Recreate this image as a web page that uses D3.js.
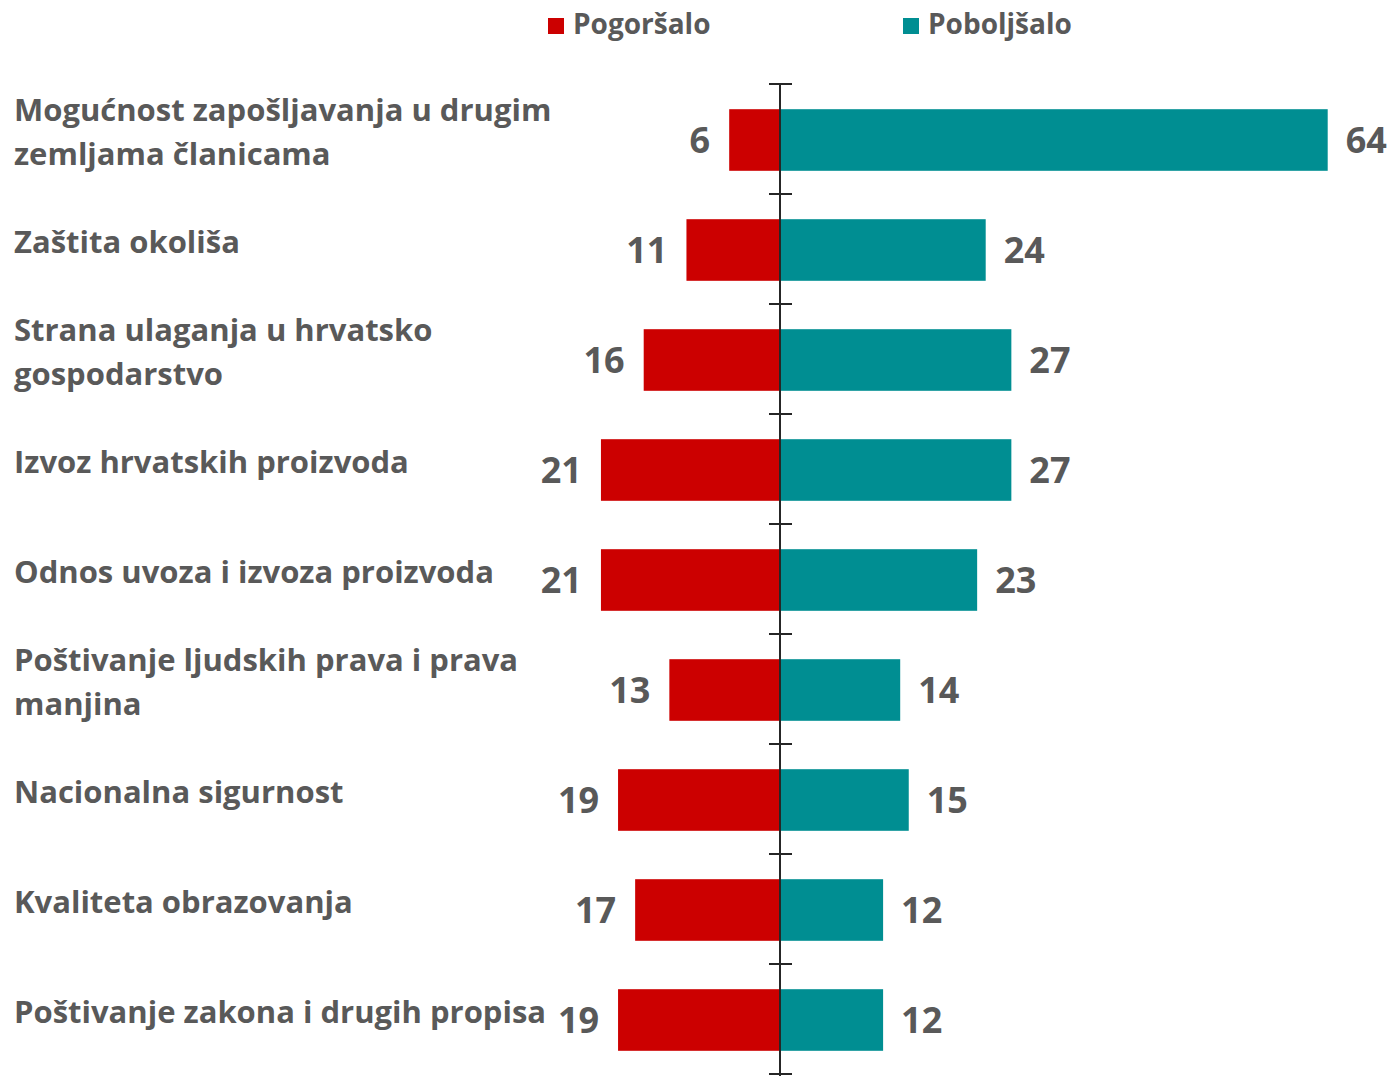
<!DOCTYPE html>
<html><head><meta charset="utf-8">
<script src="https://cdn.jsdelivr.net/npm/d3@7"></script>
<style>html,body{margin:0;padding:0;background:#fff;}svg{display:block;}</style>
</head><body>
<script>
const categories = [
  ["Mogućnost zapošljavanja u drugim","zemljama članicama"],
  ["Zaštita okoliša"],
  ["Strana ulaganja u hrvatsko","gospodarstvo"],
  ["Izvoz hrvatskih proizvoda"],
  ["Odnos uvoza i izvoza proizvoda"],
  ["Poštivanje ljudskih prava i prava","manjina"],
  ["Nacionalna sigurnost"],
  ["Kvaliteta obrazovanja"],
  ["Poštivanje zakona i drugih propisa"]
];
const worse = [6, 11, 16, 21, 21, 13, 19, 17, 19];
const better = [64, 24, 27, 27, 23, 14, 15, 12, 12];
const seriesNames = ["Pogoršalo", "Poboljšalo"];
const colors = ["#CC0000", "#008E92"];

const W = 1390, H = 1076;
const svg = d3.select("body").append("svg").attr("width", W).attr("height", H);
const font = "'Open Sans', Lato, sans-serif";
const textColor = "#595959";

const x = d3.scaleLinear().domain([0, 64]).range([780.5, 780.5 + 64 * 8.55]);
const y = d3.scaleBand().domain(d3.range(categories.length)).range([84, 1074]).paddingInner(0.44).paddingOuter(0.22);
const step = y.step();

// bars
svg.append("g").selectAll("rect").data(worse).join("rect")
  .attr("x", d => 2 * x(0) - x(d)).attr("width", d => x(d) - x(0))
  .attr("y", (d, i) => y(i) + 1).attr("height", y.bandwidth())
  .attr("fill", colors[0]);
svg.append("g").selectAll("rect").data(better).join("rect")
  .attr("x", x(0)).attr("width", d => x(d) - x(0))
  .attr("y", (d, i) => y(i) + 1).attr("height", y.bandwidth())
  .attr("fill", colors[1]);

// value labels
const valStyle = sel => sel.attr("font-family", font).attr("font-weight", 700)
  .attr("font-size", 36).attr("fill", textColor);
svg.append("g").selectAll("text").data(worse).join("text")
  .attr("x", d => 2 * x(0) - x(d) - 19)
  .attr("y", (d, i) => y(i) + y.bandwidth() / 2 + 14)
  .attr("text-anchor", "end").text(d => d).call(valStyle);
svg.append("g").selectAll("text").data(better).join("text")
  .attr("x", d => x(d) + 18)
  .attr("y", (d, i) => y(i) + y.bandwidth() / 2 + 14)
  .attr("text-anchor", "start").text(d => d).call(valStyle);

// axis
const axis = svg.append("g").attr("stroke", "#262626").attr("stroke-width", 2);
axis.append("line").attr("x1", 780).attr("x2", 780).attr("y1", 84).attr("y2", H);
const tickYs = d3.range(categories.length + 1).map(i => 84 + i * step);
axis.selectAll("line.t").data(tickYs).join("line").attr("class", "t")
  .attr("x1", 769).attr("x2", 792).attr("y1", d => d).attr("y2", d => d);

// category labels
const labels = svg.append("g").attr("font-family", font).attr("font-weight", 700)
  .attr("font-size", 31).attr("fill", textColor);
categories.forEach((lines, i) => {
  const c = y(i) + y.bandwidth() / 2;
  lines.forEach((ln, j) => {
    labels.append("text").attr("x", 14)
      .attr("y", c + 4 + (j - (lines.length - 1) / 2) * 44)
      .text(ln);
  });
});

// legend
const legX = [548, 903];
seriesNames.forEach((n, i) => {
  svg.append("rect").attr("x", legX[i]).attr("y", 18).attr("width", 16).attr("height", 16).attr("fill", colors[i]);
  svg.append("text").attr("x", legX[i] + 25).attr("y", 34).text(n)
    .attr("font-family", font).attr("font-weight", 700).attr("font-size", 28).attr("fill", textColor);
});
</script>
</body></html>
